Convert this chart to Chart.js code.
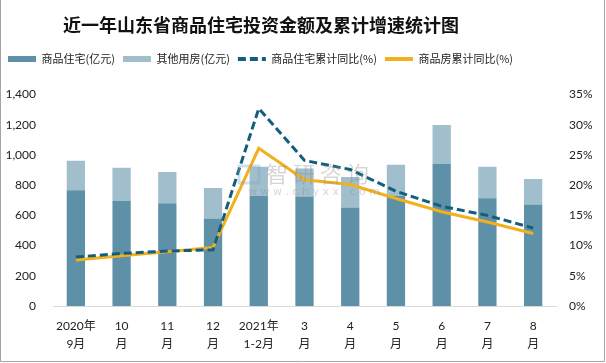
<!DOCTYPE html>
<html>
<head>
<meta charset="utf-8">
<script src="https://cdn.jsdelivr.net/npm/chart.js@4.4.1/dist/chart.umd.min.js"></script>
<style>
  body { margin: 0; background: #fff; }
  canvas { display: block; }
</style>
</head>
<body>
<canvas id="myChart" width="606" height="363"></canvas>
<script>
const months = [["2020年","9月"],["10","月"],["11","月"],["12","月"],["2021年","1-2月"],["3","月"],["4","月"],["5","月"],["6","月"],["7","月"],["8","月"]];
const residential = [767, 695, 680, 579, 729, 725, 653, 729, 942, 713, 673];   // 商品住宅(亿元)
const otherUse = [195, 220, 208, 202, 193, 185, 202, 206, 256, 209, 168];      // 其他用房(亿元)
const resiGrowth = [8.1, 8.7, 9.1, 9.3, 32.7, 24.1, 22.6, 19.0, 16.5, 15.0, 12.9]; // 商品住宅累计同比(%)
const allGrowth = [7.6, 8.3, 9.0, 9.7, 26.1, 20.9, 20.1, 17.8, 15.6, 13.9, 12.0];  // 商品房累计同比(%)
const leftTicks = [0, 1400, 200];
const rightTicks = [0, 35, 5];

const tickFont = { family: "Lato, 'Noto Sans CJK SC'", size: 12 };

const frame = {
    id: 'frame',
    afterInit(chart) {
        // extra room under the legend
        const fit = chart.legend.fit;
        chart.legend.fit = function () { fit.call(this); this.height += 20; };
        // title sits left of centre in the original
        const tb = chart.titleBlock;
        const draw = tb.draw;
        tb.draw = function () {
            const l = this.left, r = this.right;
            this.left -= 42; this.right -= 42;
            draw.call(this);
            this.left = l; this.right = r;
        };
    },
    beforeDraw(chart) {
        const c = chart.ctx;
        c.save();
        c.fillStyle = '#fff';
        c.fillRect(0, 0, chart.width, chart.height);
        c.restore();
    },
    afterDatasetsDraw(chart) {
        const c = chart.ctx;
        c.save();
        c.globalAlpha = 0.35;
        c.fillStyle = '#8a8a8a';
        c.font = "22px 'Noto Sans CJK SC'";
        c.textBaseline = 'middle';
        c.fillText('智 研 咨 询', 266, 174);
        c.font = "11px 'DejaVu Sans'";
        c.fillText('w w w . c h y x x . c o m', 248, 192);
        c.strokeStyle = '#7fa6c9';
        c.lineWidth = 3;
        c.strokeRect(239, 166, 20, 17);
        c.restore();
    },
    afterDraw(chart) {
        const c = chart.ctx;
        c.save();
        c.strokeStyle = '#a6a6a6';
        c.lineWidth = 1;
        c.beginPath();
        c.moveTo(0.5, 0);
        c.lineTo(0.5, chart.height - 1.5);
        c.lineTo(chart.width - 1.5, chart.height - 1.5);
        c.lineTo(chart.width - 1.5, 0);
        c.stroke();
        c.restore();
    }
};

const chart = new Chart("myChart", {
    type: "bar",
    data: {
        labels: months,
        datasets: [{
            label: "商品住宅(亿元)",
            data: residential,
            backgroundColor: "#5e91a8",
            yAxisID: "y",
            barPercentage: 0.4,
            categoryPercentage: 1
        }, {
            label: "其他用房(亿元)",
            data: otherUse,
            backgroundColor: "#a0becc",
            yAxisID: "y",
            barPercentage: 0.4,
            categoryPercentage: 1
        }, {
            type: "line",
            label: "商品住宅累计同比(%)",
            data: resiGrowth,
            borderColor: "#125e7d",
            borderWidth: 3,
            borderDash: [8, 4],
            pointRadius: 0,
            fill: false,
            yAxisID: "y1",
            order: -1
        }, {
            type: "line",
            label: "商品房累计同比(%)",
            data: allGrowth,
            borderColor: "#f2b01e",
            borderWidth: 3,
            pointRadius: 0,
            fill: false,
            yAxisID: "y1",
            order: -1
        }]
    },
    options: {
        responsive: false,
        animation: false,
        devicePixelRatio: 1,
        layout: { padding: { left: 0, right: 0, top: 0, bottom: 0 } },
        plugins: {
            tooltip: { enabled: false },
            title: {
                display: true,
                text: "近一年山东省商品住宅投资金额及累计增速统计图",
                color: "#111",
                font: { family: "'Noto Sans CJK SC'", size: 18, weight: "bold", lineHeight: 1.2 },
                padding: { top: 14, bottom: 10 }
            },
            legend: {
                display: true,
                position: "top",
                align: "start",
                labels: {
                    usePointStyle: true,
                    pointStyleWidth: 28,
                    boxHeight: 6,
                    padding: 8,
                    color: "#222",
                    font: { family: "'Noto Sans CJK SC'", size: 11 },
                    generateLabels(ch) {
                        return ch.data.datasets.map((ds, i) => {
                            const isLine = ds.type === "line";
                            return {
                                text: ds.label,
                                datasetIndex: i,
                                fillStyle: isLine ? ds.borderColor : ds.backgroundColor,
                                strokeStyle: isLine ? ds.borderColor : ds.backgroundColor,
                                lineWidth: isLine ? 4 : 0,
                                lineDash: ds.borderDash || [],
                                pointStyle: isLine ? "line" : "rect",
                                fontColor: "#222",
                                hidden: false
                            };
                        });
                    }
                }
            }
        },
        scales: {
            x: {
                stacked: true,
                grid: { display: false, drawTicks: false },
                border: { display: true, color: "#d9d9d9", width: 1 },
                ticks: { color: "#222", padding: 11, maxRotation: 0, autoSkip: false,
                         font: Object.assign({ lineHeight: 1.5 }, tickFont) },
                afterFit(s) { s.height = 57; }
            },
            y: {
                stacked: true,
                position: "left",
                min: leftTicks[0],
                max: leftTicks[1],
                grid: { display: false, drawTicks: false },
                border: { display: false },
                ticks: { stepSize: leftTicks[2], color: "#222", padding: 17, font: tickFont },
                afterFit(s) { s.width = 53; }
            },
            y1: {
                position: "right",
                min: rightTicks[0],
                max: rightTicks[1],
                grid: { display: false, drawTicks: false },
                border: { display: false },
                ticks: { stepSize: rightTicks[2], color: "#222", padding: 13, font: tickFont,
                         callback: v => v + "%" },
                afterFit(s) { s.width = 50; }
            }
        }
    },
    plugins: [frame]
});
</script>
</body>
</html>
